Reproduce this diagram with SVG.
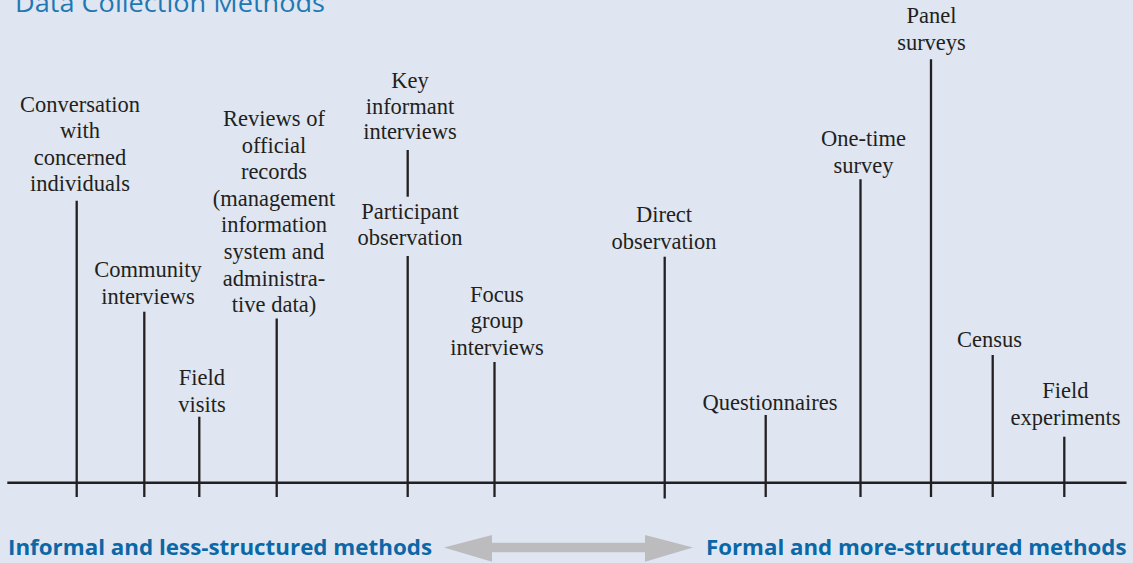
<svg xmlns="http://www.w3.org/2000/svg" width="1133" height="563" viewBox="0 0 1133 563">
<style>
.lbl{font-family:"Liberation Serif","Times New Roman",serif;font-size:22.5px;fill:#231f20;text-anchor:middle}
.stem{stroke:#231f20;stroke-width:2.3;fill:none}
.axis{stroke:#231f20;stroke-width:2.4;fill:none}
.title{font-family:"Open Sans","Noto Sans",sans-serif;font-size:25px;fill:#1f78b4}
.side{font-family:"Open Sans","Noto Sans",sans-serif;font-size:21px;font-weight:bold;fill:#0b67a6}
</style>
<rect x="0" y="0" width="1133" height="563" fill="#dfe6f1"/>
<text class="title" x="15" y="12.3" textLength="310" lengthAdjust="spacingAndGlyphs">Data Collection Methods</text>

<g id="node-conversation"><text class="lbl" x="80" y="111.7">Conversation</text><text class="lbl" x="80" y="138.2">with</text><text class="lbl" x="80" y="164.7">concerned</text><text class="lbl" x="80" y="191">individuals</text></g>
<g id="node-community"><text class="lbl" x="148" y="277.3">Community</text><text class="lbl" x="148" y="303.5">interviews</text></g>
<g id="node-field-visits"><text class="lbl" x="202" y="385">Field</text><text class="lbl" x="202" y="411.5">visits</text></g>
<g id="node-reviews"><text class="lbl" x="274" y="126">Reviews of</text><text class="lbl" x="274" y="152.6">official</text><text class="lbl" x="274" y="179.2">records</text><text class="lbl" x="274" y="205.8">(management</text><text class="lbl" x="274" y="232.4">information</text><text class="lbl" x="274" y="259">system and</text><text class="lbl" x="274" y="285.6">administra-</text><text class="lbl" x="274" y="312.2">tive data)</text></g>
<g id="node-key-informant"><text class="lbl" x="410" y="87.5">Key</text><text class="lbl" x="410" y="113.5">informant</text><text class="lbl" x="410" y="139">interviews</text></g>
<g id="node-participant"><text class="lbl" x="410" y="218.5">Participant</text><text class="lbl" x="410" y="245">observation</text></g>
<g id="node-focus-group"><text class="lbl" x="497" y="302">Focus</text><text class="lbl" x="497" y="328">group</text><text class="lbl" x="497" y="354.5">interviews</text></g>
<g id="node-direct"><text class="lbl" x="664" y="222.3">Direct</text><text class="lbl" x="664" y="249.3">observation</text></g>
<g id="node-questionnaires"><text class="lbl" x="770" y="410">Questionnaires</text></g>
<g id="node-one-time"><text class="lbl" x="863.5" y="146">One-time</text><text class="lbl" x="863.5" y="172.7">survey</text></g>
<g id="node-panel"><text class="lbl" x="931.5" y="23.3">Panel</text><text class="lbl" x="931.5" y="50">surveys</text></g>
<g id="node-census"><text class="lbl" x="989.5" y="346.7">Census</text></g>
<g id="node-field-experiments"><text class="lbl" x="1065.5" y="398.3">Field</text><text class="lbl" x="1065.5" y="425">experiments</text></g>

<g id="connectors">
<line class="axis" x1="7.3" y1="482.8" x2="1126.5" y2="482.8"/>
<line class="stem" x1="76.7" y1="200.7" x2="76.7" y2="497"/>
<line class="stem" x1="144.3" y1="311.7" x2="144.3" y2="497"/>
<line class="stem" x1="199.3" y1="416.7" x2="199.3" y2="497"/>
<line class="stem" x1="276.7" y1="318.5" x2="276.7" y2="497"/>
<line class="stem" x1="407.7" y1="150" x2="407.7" y2="196.7"/>
<line class="stem" x1="407.7" y1="256" x2="407.7" y2="497"/>
<line class="stem" x1="494.5" y1="362" x2="494.5" y2="497"/>
<line class="stem" x1="664.7" y1="256.7" x2="664.7" y2="498.5"/>
<line class="stem" x1="765.7" y1="415" x2="765.7" y2="497"/>
<line class="stem" x1="860.5" y1="179.3" x2="860.5" y2="497"/>
<line class="stem" x1="931" y1="59.3" x2="931" y2="497"/>
<line class="stem" x1="992.7" y1="355" x2="992.7" y2="497"/>
<line class="stem" x1="1064.3" y1="436.7" x2="1064.3" y2="497"/>
</g>

<g id="scale-legend">
<text class="side" x="8" y="555" textLength="424" lengthAdjust="spacingAndGlyphs">Informal and less-structured methods</text>
<polygon fill="#bcbcbf" points="444,547.5 492,535 492,542.7 645,542.7 645,535 693,547.5 645,561.7 645,552.3 492,552.3 492,561.7"/>
<text class="side" x="706" y="555" textLength="420.5" lengthAdjust="spacingAndGlyphs">Formal and more-structured methods</text>
</g>
</svg>
